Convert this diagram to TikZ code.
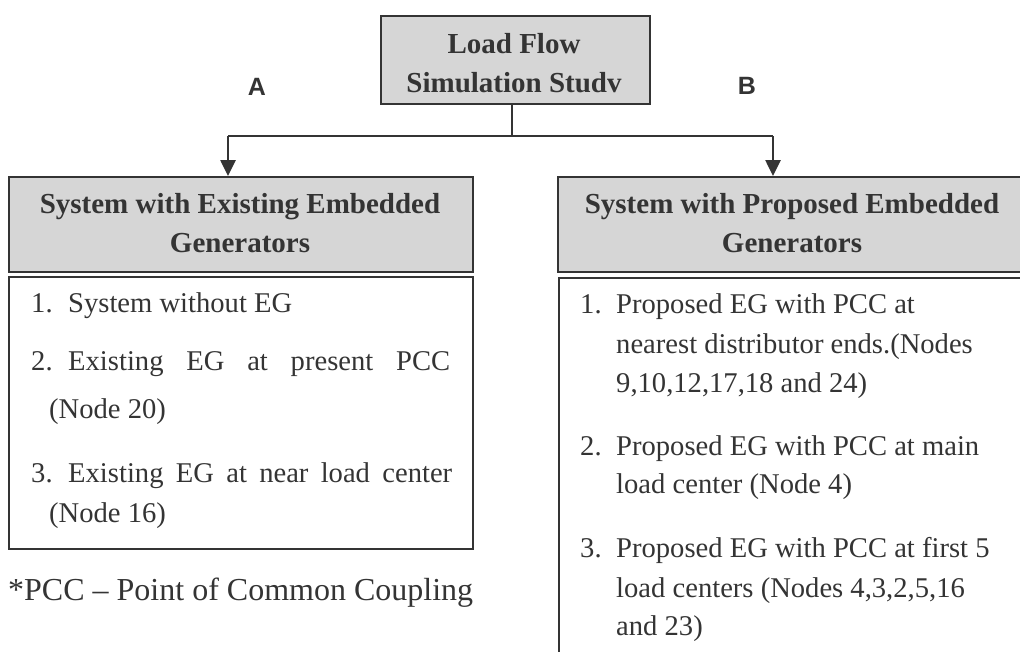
\documentclass[tikz,border=0pt]{standalone}
\usepackage{fontspec}
\setmainfont{Liberation Serif}
\newfontfamily\labfont{Liberation Sans}
\usetikzlibrary{arrows.meta}
\definecolor{ink}{RGB}{52,52,52}
\definecolor{boxfill}{RGB}{214,214,214}
\tikzset{
  hdrbox/.style={draw=ink, line width=1.6pt, fill=boxfill, inner sep=0pt, anchor=north west},
  bodybox/.style={draw=ink, line width=1.6pt, fill=white, inner sep=0pt, anchor=north west},
  hdrtxt/.style={anchor=base, inner sep=0pt, text=ink, font=\fontsize{29}{38}\selectfont\bfseries},
  itemtxt/.style={anchor=base west, inner sep=0pt, text=ink, font=\fontsize{28.6}{38}\selectfont},
  conn/.style={draw=ink, line width=2.6pt},
  arr/.style={conn, -{Triangle[width=15pt,length=16pt]}, shorten >=0pt},
  lettxt/.style={inner sep=0pt, text=ink, font=\fontsize{25}{30}\selectfont\labfont\bfseries}
}
\begin{document}
\begin{tikzpicture}[x=1pt,y=-1pt]
\useasboundingbox (0,0) rectangle (1020,651);
\clip (0,0) rectangle (1020,651);
\fill[white] (0,0) rectangle (1020,651);

% top box
\node[hdrbox, minimum width=269pt, minimum height=88pt] (top) at (380,15) {};
\node[hdrtxt] (t1) at (514,53) {Load Flow};
\node[hdrtxt] (t2) at (514,92) {Simulation Studv};

% left header + body
\node[hdrbox, minimum width=464pt, minimum height=95pt] (lh) at (8,176) {};
\node[hdrtxt] (lh1) at (240,213) {System with Existing Embedded};
\node[hdrtxt] (lh2) at (240,252) {Generators};
\node[bodybox, minimum width=464pt, minimum height=272pt] (lb) at (8,276) {};

% right header + body
\node[hdrbox, minimum width=470pt, minimum height=95pt] (rh) at (557,176) {};
\node[hdrtxt] (rh1) at (792,213) {System with Proposed Embedded};
\node[hdrtxt] (rh2) at (792,252) {Generators};
\node[bodybox, minimum width=470pt, minimum height=420pt] (rb) at (558,277) {};

% connectors
\coordinate (j) at (512,136);
\coordinate (la) at (228,136);
\coordinate (ra) at (773,136);
\draw[conn] (top.south -| j) -- (j);
\draw[conn] (la) -- (ra);
\draw[arr] (la) -- (la |- lh.north);
\draw[arr] (ra) -- (ra |- rh.north);

% letters
\node[lettxt] (A) at (257,87) {A};
\node[lettxt] (B) at (747,86) {B};

% left items
\node[itemtxt] (l1n) at (31,312) {1.};
\node[itemtxt] (l1) at (68,312) {System without EG};
\node[itemtxt] (l2n) at (31,370) {2.};
\node[itemtxt] (l2) at (68,370) {\makebox[382pt][s]{Existing EG at present PCC}};
\node[itemtxt] (l2b) at (49,418) {(Node 20)};
\node[itemtxt] (l3n) at (31,482) {3.};
\node[itemtxt] (l3) at (68,482) {\makebox[384pt][s]{Existing EG at near load center}};
\node[itemtxt] (l3b) at (49,522) {(Node 16)};

% footnote
\node[anchor=base west, inner sep=0pt, text=ink, font=\fontsize{32}{38}\selectfont] (fn) at (8,600) {*PCC -- Point of Common Coupling};

% right items
\node[itemtxt] (r1n) at (580,313) {1.};
\node[itemtxt] (r1a) at (616,313) {Proposed EG with PCC at};
\node[itemtxt] (r1b) at (616,353) {nearest distributor ends.(Nodes};
\node[itemtxt] (r1c) at (616,392) {9,10,12,17,18 and 24)};
\node[itemtxt] (r2n) at (580,455) {2.};
\node[itemtxt] (r2a) at (616,455) {Proposed EG with PCC at main};
\node[itemtxt] (r2b) at (616,493) {load center (Node 4)};
\node[itemtxt] (r3n) at (580,557) {3.};
\node[itemtxt] (r3a) at (616,557) {Proposed EG with PCC at first 5};
\node[itemtxt] (r3b) at (616,597) {load centers (Nodes 4,3,2,5,16};
\node[itemtxt] (r3c) at (616,635) {and 23)};
\end{tikzpicture}
\end{document}
